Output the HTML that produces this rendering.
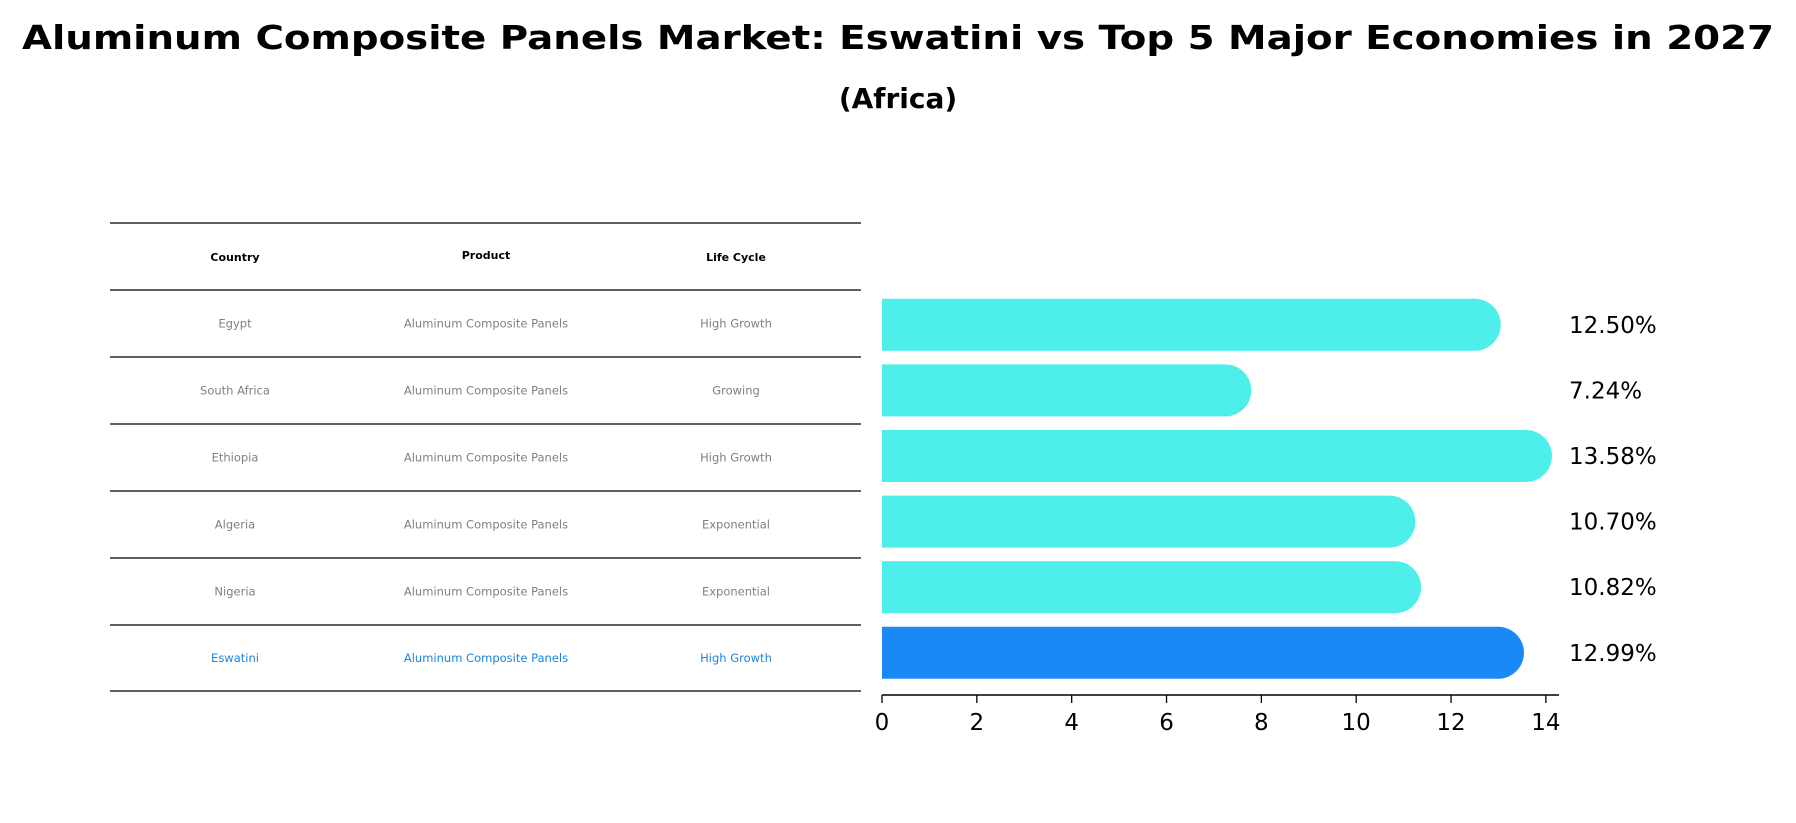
<!DOCTYPE html>
<html><head><meta charset="utf-8"><style>
html,body{margin:0;padding:0;background:#fff;}
svg{display:block;font-family:"DejaVu Sans","Liberation Sans",sans-serif;}
</style></head><body>
<svg id="chart" width="1796" height="823" viewBox="0 0 1796 823">
<text x="898" y="49" text-anchor="middle" font-size="33" font-weight="bold" textLength="1752" lengthAdjust="spacingAndGlyphs">Aluminum Composite Panels Market: Eswatini vs Top 5 Major Economies in 2027</text>
<text x="898" y="108" text-anchor="middle" font-size="28" font-weight="bold">(Africa)</text>
<g id="table"></g>
<g id="bars"></g>
</svg>
<script>
const countries=["Egypt","South Africa","Ethiopia","Algeria","Nigeria","Eswatini"];
const products=["Aluminum Composite Panels","Aluminum Composite Panels","Aluminum Composite Panels","Aluminum Composite Panels","Aluminum Composite Panels","Aluminum Composite Panels"];
const lifecycles=["High Growth","Growing","High Growth","Exponential","Exponential","High Growth"];
const values=[12.50,7.24,13.58,10.70,10.82,12.99];
const valueLabels=["12.50%","7.24%","13.58%","10.70%","10.82%","12.99%"];
const xTicks=[0,2,4,6,8,10,12,14];

const NS="http://www.w3.org/2000/svg";
function mk(tag,attrs,parent){const e=document.createElementNS(NS,tag);for(const k in attrs)e.setAttribute(k,attrs[k]);parent.appendChild(e);return e;}
const tbl=document.getElementById('table');
const bars=document.getElementById('bars');
const lineYs=[223,290,357,424,491,558,625,691];
const colX=[235,486,736];
const heads=["Country","Product","Life Cycle"];
lineYs.forEach((y,i)=>{
  const l=mk('line',{x1:110,x2:861,y1:y,y2:y,stroke:'#000','stroke-width':1.2},tbl);
  
  
});
heads.forEach((h,i)=>{
  const t=mk('text',{x:colX[i],y:i==1?259:261,'text-anchor':'middle','font-size':11,'font-weight':'bold'},tbl);
  t.textContent=h;
  
  
});
countries.forEach((c,i)=>{
  const y=(lineYs[i+1]+lineYs[i+2])/2+4;
  const col=i==countries.length-1?'#1a85e0':'#808080';
  [c,products[i],lifecycles[i]].forEach((v,j)=>{
    const t=mk('text',{x:colX[j],y:y,'text-anchor':'middle','font-size':11.5,fill:col},tbl);
    t.textContent=v;
    
    
  });
});
// axis
const x0=882,unit=47.42,axisY=695;
const xs=v=>x0+v*unit;
const bandTop=290,band=65.6,bh=52;
values.forEach((v,i)=>{
  const cy=bandTop+band*(i+0.5)+2;
  const w=xs(v)-x0, r=bh/2;
  const col=i==values.length-1?'#1a88f5':'#4eeeea';
  const p=mk('path',{d:`M${x0},${cy-r} H${x0+w} A${r},${r} 0 0 1 ${x0+w},${cy+r} H${x0} Z`,fill:col},bars);
  
  
  const t=mk('text',{x:1569,y:cy+8,'font-size':23},bars);
  t.textContent=valueLabels[i];
  
  
});
const ax=mk('line',{x1:x0,x2:1559,y1:axisY,y2:axisY,stroke:'#000','stroke-width':1.5},bars);


xTicks.forEach(v=>{
  const tk=mk('line',{x1:xs(v),x2:xs(v),y1:axisY,y2:axisY+8,stroke:'#000','stroke-width':1.3},bars);
  
  
  const t=mk('text',{x:xs(v),y:axisY+35,'text-anchor':'middle','font-size':23},bars);
  t.textContent=v;
  
  
});
</script>
</body></html>
